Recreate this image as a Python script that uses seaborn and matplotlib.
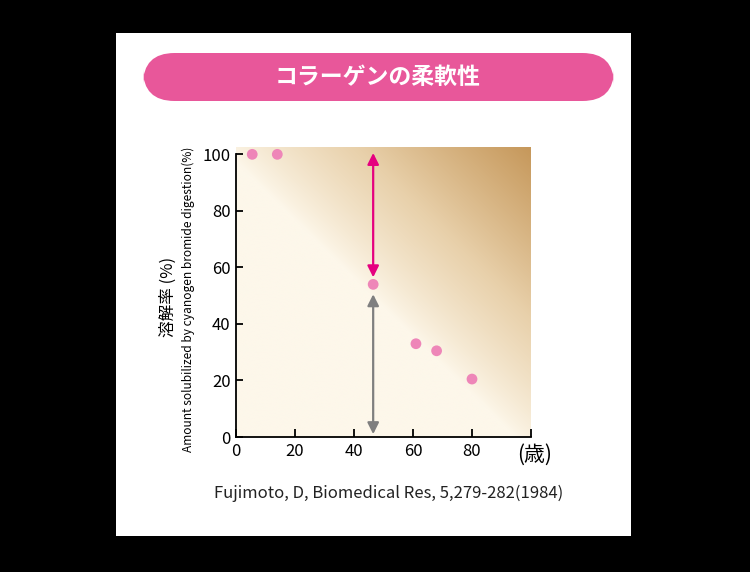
import numpy as np
import pandas as pd
import matplotlib.pyplot as plt
import seaborn as sns
from matplotlib.patches import FancyBboxPatch, Rectangle
from matplotlib.colors import LinearSegmentedColormap

age = [5.5, 14, 46.5, 61, 68, 80]
solubility = [100, 100, 54, 33, 30.5, 20.5]
xticks = [0, 20, 40, 60, 80, 100]
xticklabels = ['0', '20', '40', '60', '80', '']
yticks = [0, 20, 40, 60, 80, 100]
pink_arrow = (46.5, 100.5, 56.5)
gray_arrow = (46.5, 50.5, 1.0)

df = pd.DataFrame({'age': age, 'solubility': solubility})

sns.set_style('white')
plt.rcParams['font.family'] = ['Noto Sans CJK JP', 'DejaVu Sans']

fig = plt.figure(figsize=(7.5, 5.72), dpi=100)
fig.patch.set_facecolor('black')

# white card and pink title bar
fig.patches.append(Rectangle((116 / 750, 1 - 536 / 572), 515 / 750, 503 / 572,
                             transform=fig.transFigure, facecolor='white',
                             edgecolor='none', zorder=-2))
fig.patches.append(FancyBboxPatch((143 / 750, 1 - 101 / 572), 471 / 750, 48 / 572,
                                  boxstyle='round,pad=0,rounding_size=0.042',
                                  transform=fig.transFigure, facecolor='#e8579a',
                                  edgecolor='none', mutation_aspect=750 / 572, zorder=-1))
fig.text(378 / 750, 1 - 77 / 572, 'コラーゲンの柔軟性', color='white', fontsize=16.5,
         fontweight='bold', ha='center', va='center')

ax = fig.add_axes([236 / 750, 1 - 437 / 572, 295 / 750, 290 / 572])
ax.set_zorder(2)
ax.patch.set_alpha(0)

# diagonal background gradient
gx, gy = np.meshgrid(np.linspace(0, 1, 300), np.linspace(0, 1, 300))
t = np.clip((gx + gy - 0.95) / 1.05, 0, 1) ** 0.85
cmap = LinearSegmentedColormap.from_list('bg', ['#fdf7ea', '#e8d0aa', '#c6985b'])
ax.imshow(t, cmap=cmap, origin='lower', extent=[0, 100, 0, 102.6],
          aspect='auto', zorder=0, vmin=0, vmax=1)

sns.scatterplot(data=df, x='age', y='solubility', ax=ax, color='#ee86b8',
                s=60, edgecolor='none', zorder=5)

ax.annotate('', xy=(pink_arrow[0], pink_arrow[2]), xytext=(pink_arrow[0], pink_arrow[1]),
            arrowprops=dict(arrowstyle='<|-|>', color='#e5007f', lw=1.6,
                            mutation_scale=17, shrinkA=0, shrinkB=0), zorder=4)
ax.annotate('', xy=(gray_arrow[0], gray_arrow[2]), xytext=(gray_arrow[0], gray_arrow[1]),
            arrowprops=dict(arrowstyle='<|-|>', color='#7f7f7f', lw=1.6,
                            mutation_scale=17, shrinkA=0, shrinkB=0), zorder=4)

ax.set_xlim(0, 100)
ax.set_ylim(0, 102.6)
ax.set_xticks(xticks)
ax.set_xticklabels(xticklabels)
ax.set_yticks(yticks)
ax.set_xlabel('')
ax.set_ylabel('')
for s in ['top', 'right']:
    ax.spines[s].set_visible(False)
for s in ['left', 'bottom']:
    ax.spines[s].set_color('black')
    ax.spines[s].set_linewidth(1.3)
ax.spines['left'].set_bounds(0, 100)
ax.tick_params(axis='x', direction='in', length=6, width=1.3, labelsize=12,
               pad=4, colors='black', bottom=True)
ax.tick_params(axis='y', direction='in', length=5, width=1.3, labelsize=12,
               pad=4, colors='black', left=True)

fig.text(168 / 750, 1 - 297 / 572, '溶解率 (%)', rotation=90, fontsize=12,
         ha='center', va='center', color='black')
fig.text(188 / 750, 1 - 299 / 572, 'Amount solubilized by cyanogen bromide digestion(%)',
         rotation=90, fontsize=8.6, ha='center', va='center', color='black')
fig.text(535 / 750, 1 - 455 / 572, '(歳)', fontsize=15, ha='center', va='center',
         color='black')
fig.text(389 / 750, 1 - 493 / 572, 'Fujimoto, D, Biomedical Res, 5,279-282(1984)',
         fontsize=12, ha='center', va='center', color='#222222')

fig.savefig('out.png', dpi=100, facecolor=fig.get_facecolor())
